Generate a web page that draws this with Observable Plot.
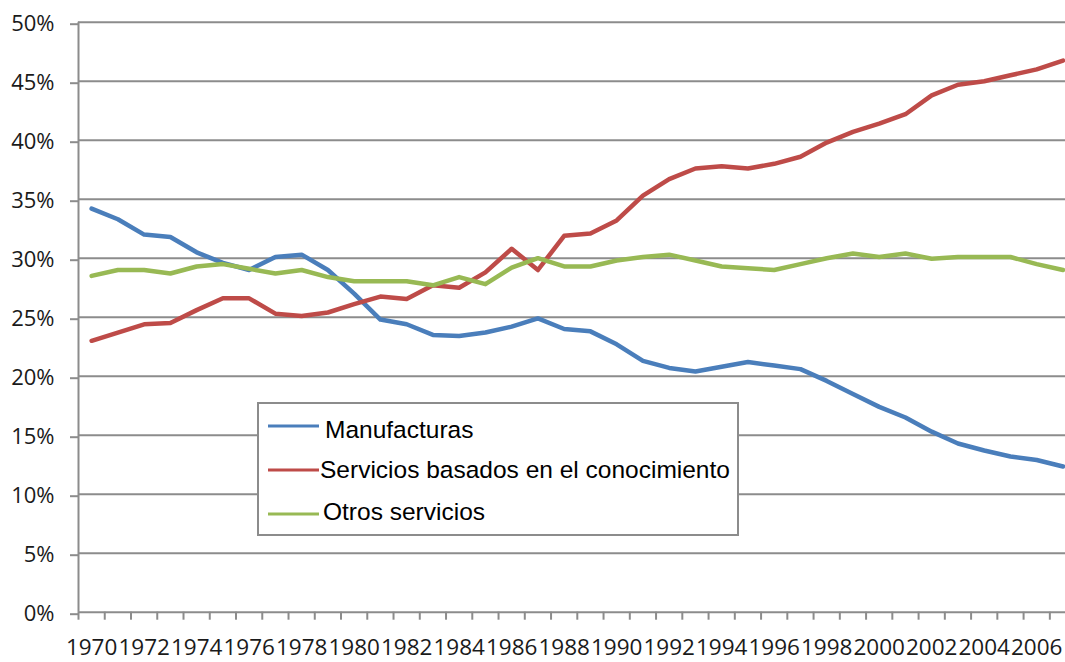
<!DOCTYPE html>
<html>
<head>
<meta charset="utf-8">
<script src="https://cdn.jsdelivr.net/npm/d3@7"></script>
<script src="https://cdn.jsdelivr.net/npm/@observablehq/plot@0.6"></script>
<style>
  html, body { margin: 0; padding: 0; background: white; overflow: hidden; }
  #wrap { position: relative; width: 1065px; height: 662px; overflow: hidden; }
  #legend { position: absolute; left: 257px; top: 402px; }
</style>
</head>
<body>
<div id="wrap"></div>
<script>
const years = [1970, 1971, 1972, 1973, 1974, 1975, 1976, 1977, 1978, 1979,
               1980, 1981, 1982, 1983, 1984, 1985, 1986, 1987, 1988, 1989,
               1990, 1991, 1992, 1993, 1994, 1995, 1996, 1997, 1998, 1999,
               2000, 2001, 2002, 2003, 2004, 2005, 2006, 2007];

const manufacturas = [34.2, 33.3, 32.0, 31.8, 30.5, 29.6, 29.0, 30.1, 30.3, 29.0,
                      27.0, 24.8, 24.4, 23.5, 23.4, 23.7, 24.2, 24.9, 24.0, 23.8,
                      22.7, 21.3, 20.7, 20.4, 20.8, 21.2, 20.9, 20.6, 19.6, 18.5,
                      17.4, 16.5, 15.3, 14.3, 13.7, 13.2, 12.9, 12.35];

const servicios = [23.0, 23.7, 24.4, 24.5, 25.6, 26.6, 26.6, 25.3, 25.1, 25.4,
                   26.1, 26.75, 26.55, 27.7, 27.5, 28.8, 30.8, 29.0, 31.9, 32.1,
                   33.2, 35.3, 36.7, 37.6, 37.8, 37.6, 38.0, 38.6, 39.8, 40.7,
                   41.4, 42.2, 43.8, 44.7, 45.0, 45.5, 46.0, 46.75];

const otros = [28.5, 29.0, 29.0, 28.7, 29.3, 29.5, 29.1, 28.7, 29.0, 28.4,
               28.05, 28.05, 28.05, 27.7, 28.4, 27.8, 29.2, 30.0, 29.3, 29.3,
               29.8, 30.1, 30.3, 29.8, 29.3, 29.15, 29.0, 29.5, 30.0, 30.4,
               30.1, 30.4, 29.95, 30.1, 30.1, 30.1, 29.5, 29.0];

const seriesNames = ["Manufacturas", "Servicios basados en el conocimiento", "Otros servicios"];
const seriesColors = ["#4a7ebb", "#be4b48", "#98b954"];
const yTicks = [0, 5, 10, 15, 20, 25, 30, 35, 40, 45, 50];
const xLabelYears = [1970, 1972, 1974, 1976, 1978, 1980, 1982, 1984, 1986, 1988,
                     1990, 1992, 1994, 1996, 1998, 2000, 2002, 2004, 2006];

// long table built from the arrays
const seriesValues = [manufacturas, servicios, otros];
const rows = [];
seriesNames.forEach((name, i) => {
  years.forEach((yr, j) => rows.push({series: name, year: yr, value: seriesValues[i][j]}));
});
// category boundaries (Excel-style tick marks between categories)
const edges = years.map(y => y - 0.5).concat([years[years.length - 1] + 0.5]);

const gridColor = "#8c8c8c";

const chart = Plot.plot({
  width: 1065,
  height: 662,
  marginLeft: 78,
  marginRight: -10.6,
  marginTop: 21.7,
  marginBottom: 50.3,
  x: {type: "linear", domain: [edges[0], edges[edges.length - 1]]},
  y: {domain: [0, 50]},
  color: {domain: seriesNames, range: seriesColors},
  style: {fontFamily: "'Open Sans', sans-serif", fontSize: "22px", background: "white", color: "#1a1a1a", overflow: "hidden"},
  marks: [
    Plot.ruleY(yTicks.filter(d => d > 0), {stroke: gridColor, strokeWidth: 2}),
    Plot.ruleY([0], {stroke: gridColor, strokeWidth: 2}),
    Plot.ruleX([edges[0]], {stroke: gridColor, strokeWidth: 2}),
    Plot.axisY(yTicks, {tickSize: 8, tickPadding: 16, tickFormat: d => d + "%", stroke: gridColor, strokeWidth: 2, label: null, fontSize: 22, dy: 2}),
    Plot.axisX(edges, {tickSize: 8, tickFormat: () => "", stroke: gridColor, strokeWidth: 2, label: null}),
    Plot.axisX(xLabelYears, {tickSize: 0, tickPadding: 27, tickFormat: d => String(d), label: null, fontSize: 22.5, letterSpacing: "0.3px"}),
    Plot.line(rows, {x: "year", y: "value", z: "series", stroke: "series", strokeWidth: 4.5, strokeLinejoin: "round", strokeLinecap: "round"})
  ]
});
document.getElementById("wrap").appendChild(chart);

// legend (overlaid box, like the original)
const legW = 482, legH = 134;
const leg = d3.select("#wrap").append("svg")
  .attr("id", "legend")
  .attr("width", legW).attr("height", legH);
leg.append("rect").attr("x", 1).attr("y", 1).attr("width", legW - 2).attr("height", legH - 2)
  .attr("fill", "white").attr("stroke", gridColor).attr("stroke-width", 2);
const rowY = [24, 68, 112];
const textBase = [36, 76, 118];
const textX = [68, 63, 66];
seriesNames.forEach((name, i) => {
  leg.append("line").attr("x1", 11).attr("x2", 62).attr("y1", rowY[i]).attr("y2", rowY[i])
    .attr("stroke", seriesColors[i]).attr("stroke-width", 3);
  leg.append("text").attr("x", textX[i]).attr("y", textBase[i])
    .attr("font-family", "'Liberation Sans', Arial, sans-serif").attr("font-size", 24.5)
    .attr("fill", "#000").text(name);
});
</script>
</body>
</html>
